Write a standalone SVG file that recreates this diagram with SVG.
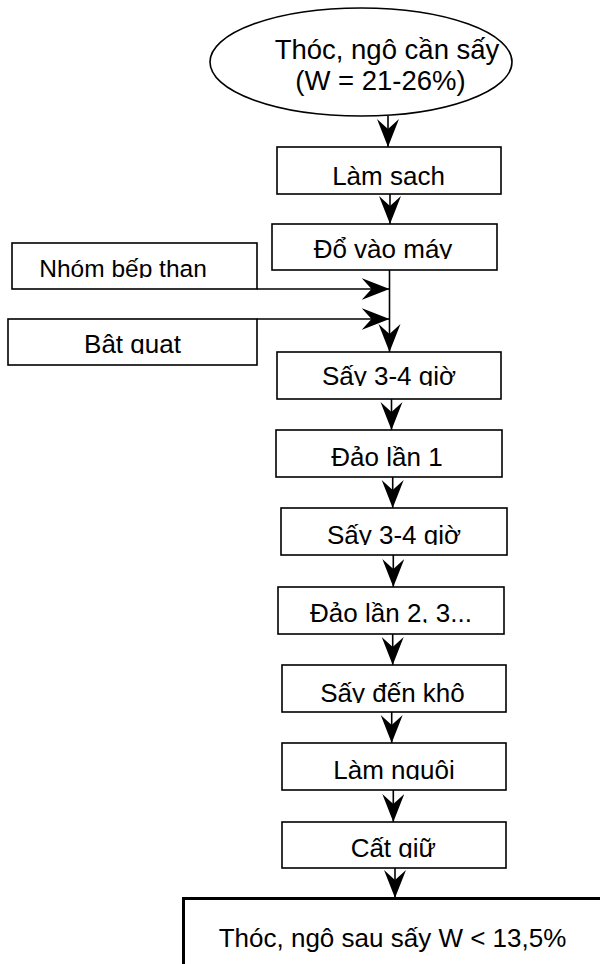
<svg xmlns="http://www.w3.org/2000/svg" width="600" height="964" viewBox="0 0 600 964">
<style>
.box{fill:#fff;stroke:#000;stroke-width:1.6}
.t{font-family:"Liberation Sans",Arial,sans-serif;font-size:26px;fill:#000;text-anchor:middle}
.c{fill:none;stroke:#000;stroke-width:1.6}
</style>
<defs>
<marker id="ah" markerUnits="userSpaceOnUse" markerWidth="30" markerHeight="24" refX="28" refY="11" orient="auto" viewBox="0 0 30 24">
<path d="M0,0 L28,11 L0,22 L10,11 Z" fill="#000"/>
</marker>
<clipPath id="k1"><rect x="277" y="147" width="224" height="39"/></clipPath>
<clipPath id="k2"><rect x="272" y="224" width="225" height="35"/></clipPath>
<clipPath id="k3"><rect x="12" y="243" width="245" height="35"/></clipPath>
<clipPath id="k4"><rect x="8" y="319" width="249" height="35"/></clipPath>
<clipPath id="k5"><rect x="277" y="352" width="224" height="34"/></clipPath>
<clipPath id="k6"><rect x="276" y="430" width="226" height="37"/></clipPath>
<clipPath id="k7"><rect x="281" y="508" width="226" height="37"/></clipPath>
<clipPath id="k8"><rect x="278" y="587" width="226" height="36"/></clipPath>
<clipPath id="k9"><rect x="282" y="665" width="224" height="38"/></clipPath>
<clipPath id="k10"><rect x="282" y="743" width="224" height="37"/></clipPath>
<clipPath id="k11"><rect x="282" y="822" width="224" height="36"/></clipPath>
</defs>

<g id="connectors">
<line class="c" x1="388" y1="116" x2="388" y2="147" marker-end="url(#ah)"/>
<line class="c" x1="390" y1="194" x2="390" y2="224" marker-end="url(#ah)"/>
<line class="c" x1="389.5" y1="270" x2="389.5" y2="352" marker-end="url(#ah)"/>
<line class="c" x1="257" y1="289" x2="389.5" y2="289" marker-end="url(#ah)"/>
<line class="c" x1="257" y1="319" x2="389.5" y2="319" marker-end="url(#ah)"/>
<line class="c" x1="391.5" y1="399" x2="391.5" y2="430" marker-end="url(#ah)"/>
<line class="c" x1="392.7" y1="477" x2="392.7" y2="508" marker-end="url(#ah)"/>
<line class="c" x1="393.3" y1="555" x2="393.3" y2="587" marker-end="url(#ah)"/>
<line class="c" x1="392.7" y1="634" x2="392.7" y2="665" marker-end="url(#ah)"/>
<line class="c" x1="391.7" y1="712" x2="391.7" y2="743" marker-end="url(#ah)"/>
<line class="c" x1="393.3" y1="790" x2="393.3" y2="822" marker-end="url(#ah)"/>
<line class="c" x1="395" y1="868" x2="395" y2="898" marker-end="url(#ah)"/>
</g>

<g id="start">
<ellipse class="box" cx="361" cy="62" rx="151" ry="54"/>
<text class="t" x="387" y="59" style="font-size:27.5px">Thóc, ngô cần sấy</text>
<text class="t" x="380.5" y="90" style="font-size:27.5px">(W = 21-26%)</text>
</g>

<g id="lamsach">
<rect class="box" x="277" y="147" width="224" height="47"/>
<text class="t" x="388.5" y="185" clip-path="url(#k1)">Làm sạch</text>
</g>

<g id="dovaomay">
<rect class="box" x="272" y="224" width="225" height="46"/>
<text class="t" x="383" y="258" clip-path="url(#k2)">Đổ vào máy</text>
</g>

<g id="nhombepthan">
<rect class="box" x="12" y="243" width="245" height="46"/>
<text class="t" x="123" y="277" style="font-size:24.5px" clip-path="url(#k3)">Nhóm bếp than</text>
</g>

<g id="batquat">
<rect class="box" x="8" y="319" width="249" height="46"/>
<text class="t" x="132.5" y="353" clip-path="url(#k4)">Bật quạt</text>
</g>

<g id="say1">
<rect class="box" x="277" y="352" width="224" height="47"/>
<text class="t" x="389" y="385" clip-path="url(#k5)">Sấy 3-4 giờ</text>
</g>

<g id="dao1">
<rect class="box" x="276" y="430" width="226" height="47"/>
<text class="t" x="387" y="466" clip-path="url(#k6)">Đảo lần 1</text>
</g>

<g id="say2">
<rect class="box" x="281" y="508" width="226" height="47"/>
<text class="t" x="394" y="544" clip-path="url(#k7)">Sấy 3-4 giờ</text>
</g>

<g id="dao2">
<rect class="box" x="278" y="587" width="226" height="47"/>
<text class="t" x="391" y="622" clip-path="url(#k8)">Đảo lần 2, 3...</text>
</g>

<g id="saydenkho">
<rect class="box" x="282" y="665" width="224" height="47"/>
<text class="t" x="392.5" y="702" clip-path="url(#k9)">Sấy đến khô</text>
</g>

<g id="lamnguoi">
<rect class="box" x="282" y="743" width="224" height="47"/>
<text class="t" x="394" y="779" clip-path="url(#k10)">Làm nguội</text>
</g>

<g id="catgiu">
<rect class="box" x="282" y="822" width="224" height="46"/>
<text class="t" x="393.3" y="857" clip-path="url(#k11)">Cất giữ</text>
</g>

<g id="ketqua">
<rect x="183.5" y="898.5" width="430" height="80" fill="#fff" stroke="#000" stroke-width="3"/>
<text class="t" x="392.5" y="947">Thóc, ngô sau sấy W &lt; 13,5%</text>
</g>
</svg>
